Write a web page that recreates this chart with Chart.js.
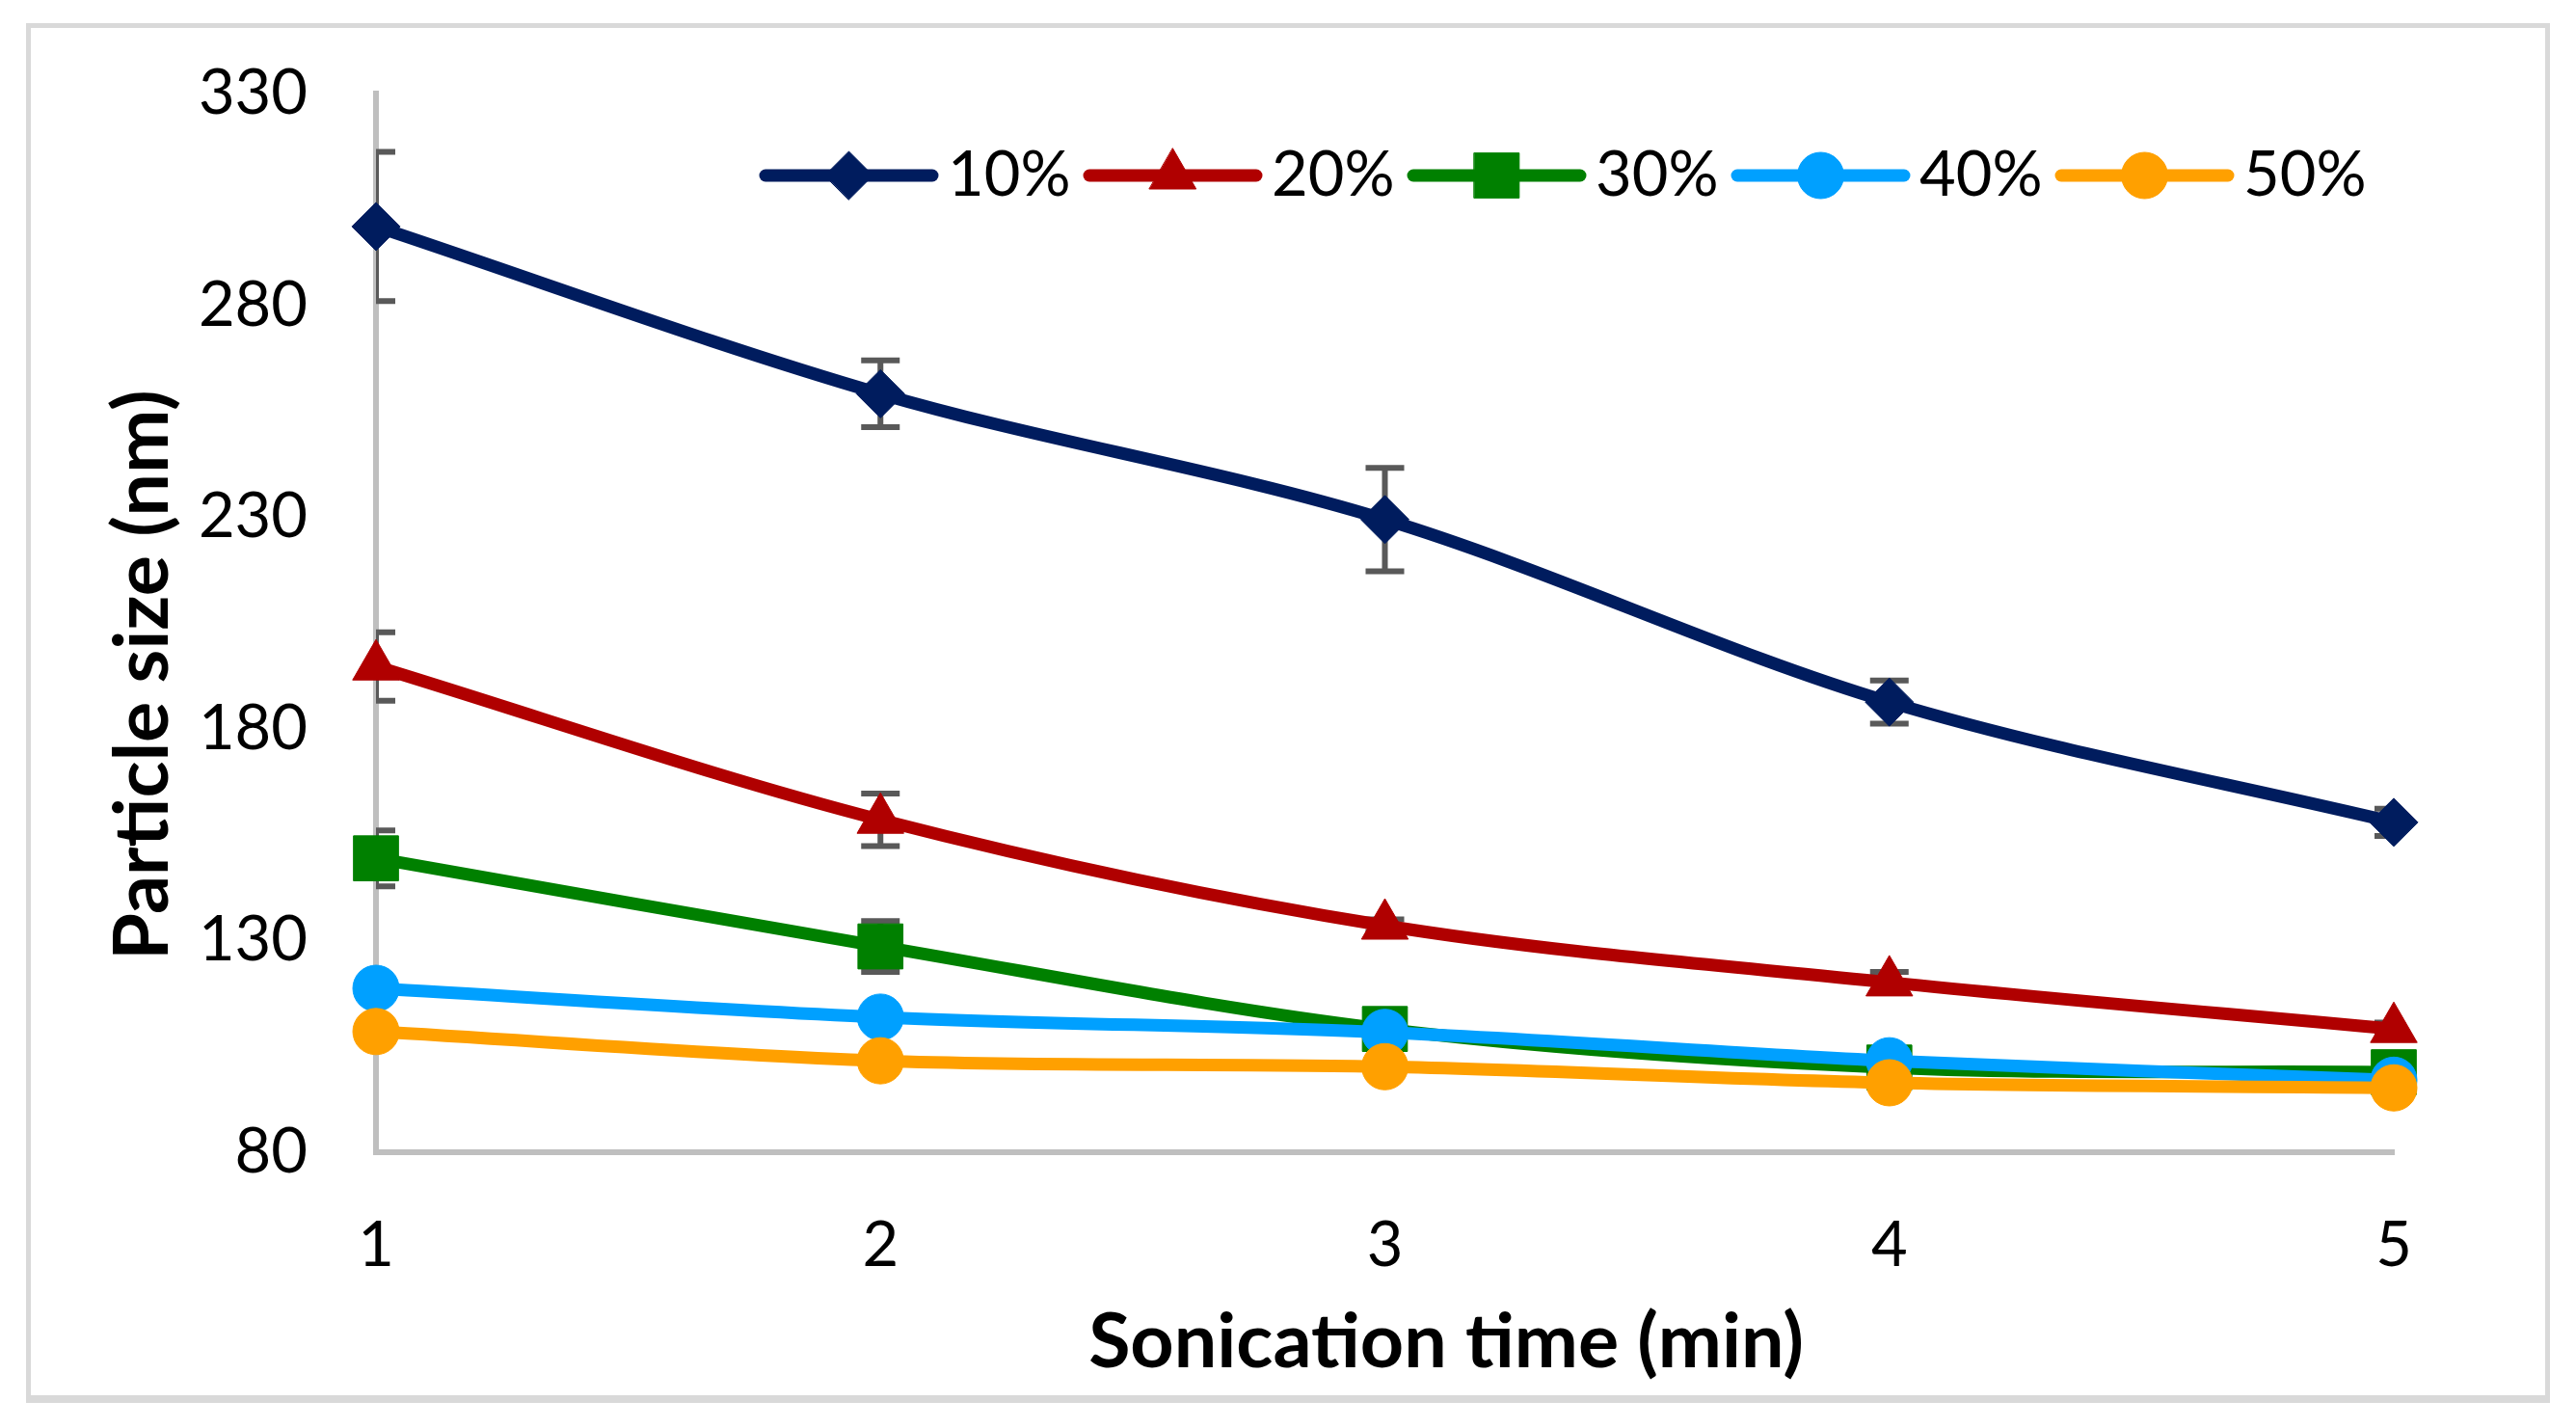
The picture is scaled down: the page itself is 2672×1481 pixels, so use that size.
<!DOCTYPE html>
<html>
<head>
<meta charset="utf-8">
<title>Particle size vs sonication time</title>
<script src="https://cdn.jsdelivr.net/npm/chart.js@4.4.1/dist/chart.umd.min.js"></script>
<style>
    html, body { margin: 0; padding: 0; background: #fff; }
    body { width: 2672px; height: 1481px; position: relative; overflow: hidden; }
    /* light grey frame around the figure */
    #frame {
        position: absolute; left: 27px; top: 24px; width: 2618px; height: 1431px;
        box-sizing: border-box; border: 5px solid #d9d9d9; border-bottom-width: 8px;
    }
    #chart { position: absolute; left: 0; top: 0; }
</style>
</head>
<body>
<div id="frame"></div>
<canvas id="chart" width="2672" height="1481"></canvas>
<script>
// Values
const sonicationTimes = ["1", "2", "3", "4", "5"];
const yTicks = [80, 130, 180, 230, 280, 330];
const seriesNames = ["10%", "20%", "30%", "40%", "50%"];

const size10 = [298.6, 259.1, 229.4, 186.3, 157.9];
const size20 = [194.7, 158.5, 133.5, 120.1, 109.1];
const size30 = [149.4, 128.6, 109.1, 100.0, 98.9];
const size40 = [118.7, 111.9, 108.3, 101.6, 97.0];
const size50 = [108.5, 101.6, 100.2, 96.4, 95.2];

// error bars (+/-)
const err10 = [17.6, 7.9, 12.2, 5.1, 3.2];
const err20 = [8.1, 6.2, 1.5, 2.5, 1.5];
const err30 = [6.6, 6.0, 2.0, 1.0, 1.0];
const err40 = [1.0, 1.0, 1.0, 1.0, 1.0];
const err50 = [1.0, 1.5, 1.0, 1.0, 1.0];

const FONT = "Lato, 'Open Sans', sans-serif";

// Estilo de cada serie
const styles = [
    { color: "#001c5e", point: "rectRot", radius: 25 },
    { color: "#b00000", point: "triangle", radius: 28 },
    { color: "#008000", point: "rect", radius: 33 },
    { color: "#00a0ff", point: "circle", radius: 24 },
    { color: "#ffa000", point: "circle", radius: 24 },
];
const sizes = [size10, size20, size30, size40, size50];
const errors = [err10, err20, err30, err40, err50];

const datasets = seriesNames.map((name, i) => ({
    label: name,
    data: sizes[i],
    errors: errors[i],
    borderColor: styles[i].color,
    backgroundColor: styles[i].color,
    borderWidth: 13,
    borderCapStyle: "round",
    borderJoinStyle: "round",
    tension: 0.33,
    pointStyle: styles[i].point,
    pointRadius: styles[i].radius,
    pointBorderWidth: 1,
    pointBackgroundColor: styles[i].color,
    pointBorderColor: styles[i].color,
    clip: false,
    order: seriesNames.length - i, // 50% ends on top, like Excel
}));

// marker drawing for the legend (falls back if helpers are missing)
function drawMarker(ctx, style, radius, x, y) {
    if (Chart.helpers && Chart.helpers.drawPoint) {
        Chart.helpers.drawPoint(ctx, { pointStyle: style, radius: radius, rotation: 0, borderWidth: 1 }, x, y);
        return;
    }
    ctx.beginPath();
    if (style === "circle") {
        ctx.arc(x, y, radius, 0, Math.PI * 2);
    } else if (style === "rect") {
        const s = radius * Math.SQRT1_2;
        ctx.rect(x - s, y - s, 2 * s, 2 * s);
    } else if (style === "rectRot") {
        ctx.moveTo(x - radius, y); ctx.lineTo(x, y - radius);
        ctx.lineTo(x + radius, y); ctx.lineTo(x, y + radius);
    } else {
        ctx.moveTo(x, y - radius);
        ctx.lineTo(x + radius * 0.866, y + radius / 2);
        ctx.lineTo(x - radius * 0.866, y + radius / 2);
    }
    ctx.closePath();
    ctx.fill();
    ctx.stroke();
}

// error bars, drawn just before each series so its line and markers sit on top
const errorBarPlugin = {
    id: "errorBars",
    beforeDatasetDraw(chart, args) {
        const ds = chart.data.datasets[args.index];
        if (!ds.errors) return;
        const { ctx, chartArea } = chart;
        const yScale = chart.scales.y;
        ctx.save();
        ctx.beginPath();
        ctx.rect(chartArea.left, chartArea.top, chartArea.right - chartArea.left, chartArea.bottom - chartArea.top);
        ctx.clip();
        ctx.strokeStyle = "#595959";
        ctx.lineWidth = 6;
        ctx.lineCap = "butt";
        args.meta.data.forEach((pt, i) => {
            const v = ds.data[i];
            const e = ds.errors[i];
            const yTop = yScale.getPixelForValue(v + e);
            const yBot = yScale.getPixelForValue(v - e);
            ctx.beginPath();
            ctx.moveTo(pt.x, yTop); ctx.lineTo(pt.x, yBot);
            ctx.moveTo(pt.x - 20, yTop); ctx.lineTo(pt.x + 20, yTop);
            ctx.moveTo(pt.x - 20, yBot); ctx.lineTo(pt.x + 20, yBot);
            ctx.stroke();
        });
        ctx.restore();
    },
};

// legend inside the plot area + axis titles
const decorPlugin = {
    id: "decor",
    afterDraw(chart) {
        const { ctx, chartArea } = chart;
        ctx.save();

        // legend row
        const x0 = chartArea.left + 404;
        const yc = chartArea.top + 85;
        const step = 336;
        ctx.font = "65px " + FONT;
        ctx.textBaseline = "middle";
        ctx.textAlign = "left";
        chart.data.datasets.forEach((ds, i) => {
            const lx = x0 + i * step;
            ctx.strokeStyle = ds.borderColor;
            ctx.lineWidth = 13;
            ctx.lineCap = "round";
            ctx.beginPath();
            ctx.moveTo(lx, yc); ctx.lineTo(lx + 173, yc);
            ctx.stroke();
            ctx.fillStyle = ds.borderColor;
            ctx.lineWidth = 1;
            drawMarker(ctx, ds.pointStyle, ds.pointRadius, lx + 86.5, yc);
            ctx.fillStyle = "#000";
            ctx.fillText(ds.label, lx + 189, yc);
        });

        // axis titles
        ctx.font = "bold 79px " + FONT;
        ctx.fillStyle = "#000";
        ctx.textAlign = "center";
        ctx.textBaseline = "alphabetic";
        ctx.fillText("Sonication time (min)", chartArea.left + 1110, chartArea.bottom + 223);

        ctx.translate(chartArea.left - 216, chartArea.top + 603);
        ctx.rotate(-Math.PI / 2);
        ctx.fillText("Particle size (nm)", 0, 0);
        ctx.restore();
    },
};

new Chart(document.getElementById("chart"), {
    type: "line",
    data: { labels: sonicationTimes, datasets: datasets },
    options: {
        responsive: false,
        animation: false,
        layout: { padding: { left: 0, right: 189, top: 97, bottom: 0 } },
        plugins: {
            legend: { display: false },
            tooltip: { enabled: false },
        },
        scales: {
            x: {
                type: "category",
                offset: false,
                grid: { color: "transparent", drawTicks: false },
                border: { color: "#bfbfbf", width: 6 },
                ticks: { color: "#000", font: { family: FONT, size: 65 }, padding: 58, maxRotation: 0 },
                afterFit(s) { s.height = 286; },
            },
            y: {
                min: 80,
                max: 330,
                grid: { color: "transparent", drawTicks: false },
                border: { color: "#bfbfbf", width: 6 },
                // small lineHeight so the top label does not push the plot area down
                ticks: { color: "#000", font: { family: FONT, size: 65, lineHeight: 0.3 }, padding: 71 },
                afterBuildTicks(s) { s.ticks = yTicks.map(v => ({ value: v })); },
                afterFit(s) { s.width = 390; },
            },
        },
    },
    plugins: [errorBarPlugin, decorPlugin],
});
</script>
</body>
</html>
